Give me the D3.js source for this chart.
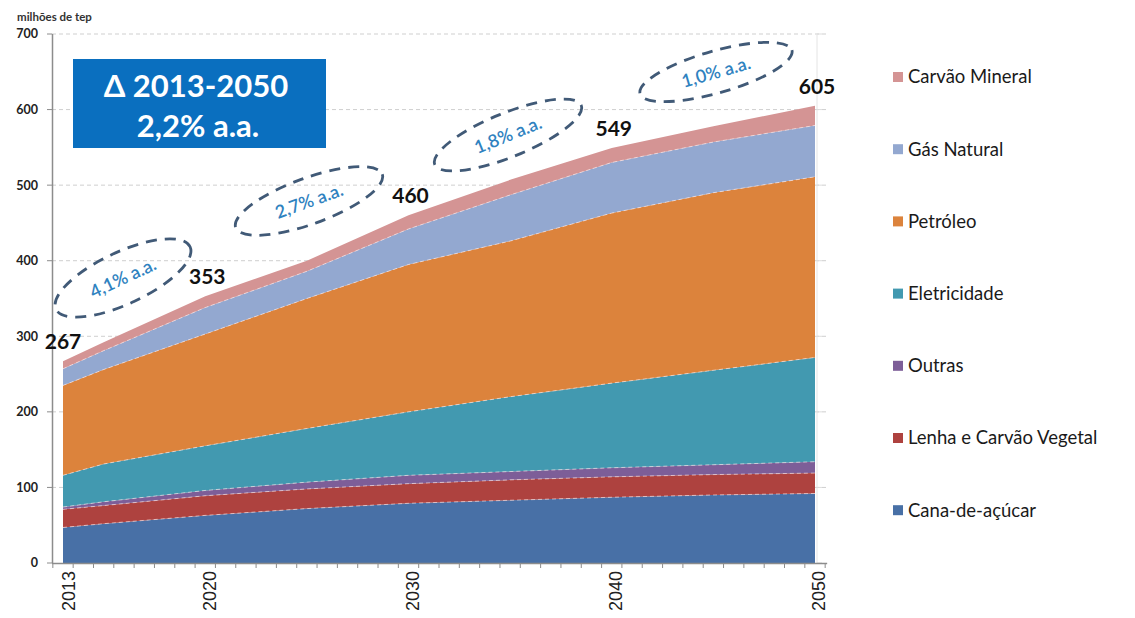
<!DOCTYPE html>
<html><head><meta charset="utf-8">
<script src="https://cdn.jsdelivr.net/npm/d3@7"></script>
<style>body{margin:0;background:#fff}svg{display:block}</style>
</head><body>
<svg id="c" width="1135" height="618"></svg>
<script>
const years   = [2013, 2015, 2020, 2025, 2030, 2035, 2040, 2045, 2050];
const cana    = [47, 52, 63, 72, 79, 83, 87, 90, 92];
const lenha   = [24, 24, 26, 26, 26, 27, 27, 27, 27];
const outras  = [3, 5, 7, 9, 11, 11, 12, 13, 15];
const eletr   = [42, 50, 59, 71, 84, 99, 112, 125, 138];
const petro   = [119, 125, 148, 172, 195, 206, 225, 235, 239];
const gas     = [22, 25, 35, 36, 47, 61, 67, 67, 68];
const carvao  = [10, 11, 15, 14, 18, 20, 19, 21, 26];
const seriesNames = ["Cana-de-açúcar","Lenha e Carvão Vegetal","Outras","Eletricidade","Petróleo","Gás Natural","Carvão Mineral"];
const seriesColors = ["#4870a6","#ae423f","#7d5e98","#4299b0","#dc833c","#93a8d0","#d49494"];
const totalYears = [2013, 2020, 2030, 2040, 2050];
const totalLabels = ["267","353","460","549","605"];
const rateLabels = ["4,1% a.a.","2,7% a.a.","1,8% a.a.","1,0% a.a."];
const yTicks = [0,100,200,300,400,500,600,700];
const xLabelYears = [2013, 2020, 2030, 2040, 2050];

const svg = d3.select("#c");
const x = d3.scaleLinear().domain([2013, 2050]).range([63, 815]);
const y = d3.scaleLinear().domain([0, 700]).range([563, 34]);
const step = x(2014) - x(2013);

const values = [cana, lenha, outras, eletr, petro, gas, carvao];
const rows = years.map((yr, i) => { const r = {year: yr}; seriesNames.forEach((n, k) => r[n] = values[k][i]); return r; });
const stack = d3.stack().keys(seriesNames)(rows);

// grid
svg.append("g").selectAll("line").data(yTicks.filter(d => d > 0)).join("line")
  .attr("x1", 52).attr("x2", 829).attr("y1", d => y(d)).attr("y2", d => y(d))
  .attr("stroke", "#cfcfcf").attr("stroke-dasharray", "4,3").attr("stroke-width", 1);

// areas
const area = d3.area().x(d => x(d.data.year)).y0(d => y(d[0])).y1(d => y(d[1]));
svg.append("g").selectAll("path").data(stack).join("path")
  .attr("d", area).attr("fill", (d, i) => seriesColors[i]);
const line = d3.line().x(d => x(d.data.year)).y(d => y(d[1]));
svg.append("g").selectAll("path").data(stack.slice(0, 6)).join("path")
  .attr("d", line).attr("fill", "none").attr("stroke", "rgba(255,235,235,0.6)")
  .attr("stroke-width", 1).attr("stroke-dasharray", "4,3");

// right faint axis
svg.append("line").attr("x1", x(2050) + 2).attr("x2", x(2050) + 2).attr("y1", y(700)).attr("y2", y(0))
  .attr("stroke", "#e4e4e4");
svg.append("g").selectAll("line").data(yTicks).join("line")
  .attr("x1", x(2050) + 2).attr("x2", x(2050) + 7).attr("y1", d => y(d)).attr("y2", d => y(d)).attr("stroke", "#ddd");

// y axis
const yAxis = svg.append("g");
yAxis.append("line").attr("x1", 52.5).attr("x2", 52.5).attr("y1", y(700)).attr("y2", y(0)).attr("stroke", "#8c8c8c").attr("stroke-width", 1.5);
yAxis.selectAll("line.t").data(yTicks).join("line").attr("class", "t")
  .attr("x1", 47).attr("x2", 52).attr("y1", d => y(d)).attr("y2", d => y(d)).attr("stroke", "#8c8c8c");
yAxis.selectAll("text").data(yTicks).join("text")
  .attr("x", 38).attr("y", d => y(d)).attr("dy", "0.35em").attr("text-anchor", "end")
  .attr("font-family", "Lato, sans-serif").attr("font-weight", "bold").attr("font-size", 12.5).attr("fill", "#222")
  .text(d => d);
svg.append("text").attr("x", 17).attr("y", 21).attr("font-family", "Lato, sans-serif").attr("font-weight", "bold")
  .attr("font-size", 11.5).attr("fill", "#333").text("milhões de tep");

// x axis
const xAxis = svg.append("g");
xAxis.append("line").attr("x1", 52).attr("x2", x(2050) + step / 2 + 2).attr("y1", 563.5).attr("y2", 563.5).attr("stroke", "#8c8c8c").attr("stroke-width", 1.5);
const tickYears = d3.range(2013, 2052);
xAxis.selectAll("line.t").data(tickYears).join("line").attr("class", "t")
  .attr("x1", d => x(d) - step / 2).attr("x2", d => x(d) - step / 2).attr("y1", 563).attr("y2", 568).attr("stroke", "#8c8c8c");
xAxis.selectAll("text").data(xLabelYears).join("text")
  .attr("transform", d => `translate(${x(d) + (d === 2013 ? 6 : 4)},571) rotate(-90)`)
  .attr("text-anchor", "end").attr("dy", "0.35em")
  .attr("font-family", "Liberation Sans, Arial, sans-serif").attr("font-size", 18).attr("fill", "#222")
  .text(d => d);

// total labels
svg.append("g").selectAll("text").data(totalYears).join("text")
  .attr("x", d => x(d) + (d === 2013 ? 0 : 2)).attr("y", (d, i) => y(+totalLabels[i]) - 12)
  .attr("text-anchor", "middle").attr("font-family", "Lato, sans-serif").attr("font-weight", "bold")
  .attr("font-size", 21).attr("fill", "#111").text((d, i) => totalLabels[i]);

// rate ellipses
const ell = [
  {cx: 123, cy: 278, rx: 74, ry: 26, a: -25},
  {cx: 309, cy: 201, rx: 78, ry: 23, a: -20},
  {cx: 508, cy: 135, rx: 79, ry: 22, a: -22},
  {cx: 716, cy: 72, rx: 79, ry: 21, a: -16}
];
const eg = svg.append("g").selectAll("g").data(ell).join("g")
  .attr("transform", d => `translate(${d.cx},${d.cy}) rotate(${d.a})`);
eg.append("ellipse").attr("rx", d => d.rx).attr("ry", d => d.ry).attr("fill", "none")
  .attr("stroke", "#415a77").attr("stroke-width", 2.8).attr("stroke-dasharray", "11,8");
eg.append("text").attr("text-anchor", "middle").attr("dy", "0.35em")
  .attr("font-family", "Lato, sans-serif").attr("font-size", 18).attr("font-weight", 600).attr("fill", "#2f82c0")
  .text((d, i) => rateLabels[i]);

// blue box
svg.append("rect").attr("x", 73).attr("y", 59).attr("width", 253).attr("height", 89).attr("fill", "#0a6fbf");
svg.append("text").attr("x", 196).attr("y", 97).attr("text-anchor", "middle").attr("fill", "#fff")
  .attr("font-family", "Lato, sans-serif").attr("font-weight", "bold").attr("font-size", 31).text("Δ 2013-2050");
svg.append("text").attr("x", 198).attr("y", 137).attr("text-anchor", "middle").attr("fill", "#fff")
  .attr("font-family", "Lato, sans-serif").attr("font-weight", "bold").attr("font-size", 31).text("2,2% a.a.");

// legend
const legOrder = [6,5,4,3,2,1,0];
const lg = svg.append("g").selectAll("g").data(legOrder).join("g")
  .attr("transform", (d, i) => `translate(893,${77 + i * 72.2})`);
lg.append("rect").attr("x", 0).attr("y", -5).attr("width", 10).attr("height", 10).attr("fill", d => seriesColors[d]);
lg.append("text").attr("x", 15).attr("dy", "0.35em").attr("font-family", "Lato, sans-serif").attr("font-size", 18.5)
  .attr("fill", "#1a1a1a").text(d => seriesNames[d]);
</script>
</body></html>
